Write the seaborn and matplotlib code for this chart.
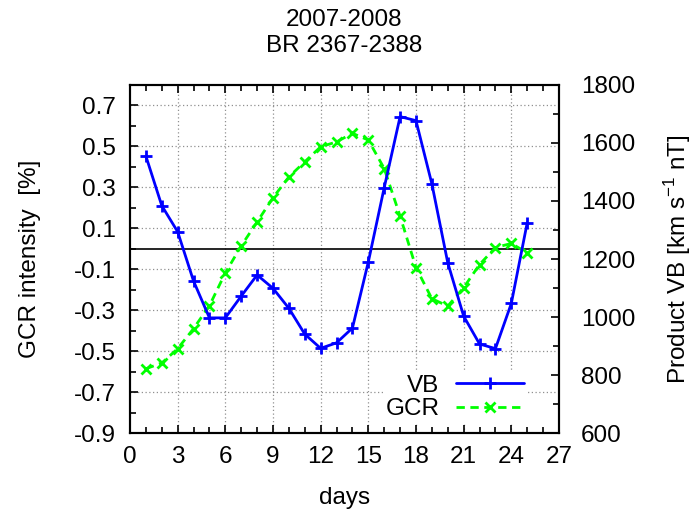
import numpy as np
import pandas as pd
import matplotlib
matplotlib.use("Agg")
import matplotlib.pyplot as plt
import seaborn as sns
from matplotlib.ticker import MultipleLocator, FixedLocator

sns.set_theme(style="ticks")
plt.rcParams['font.family'] = ['Liberation Sans', 'DejaVu Sans']
plt.rcParams['text.color'] = 'black'
plt.rcParams['axes.labelcolor'] = 'black'
plt.rcParams['xtick.color'] = 'black'
plt.rcParams['ytick.color'] = 'black'

# 데이터
days = list(range(1, 26))
vb = [1555, 1384, 1294, 1124, 997, 997, 1072, 1145, 1099, 1030, 941, 892, 911,
      962, 1190, 1446, 1691, 1677, 1459, 1187, 1003, 907, 891, 1047, 1325]
gcr = [-0.586, -0.558, -0.488, -0.390, -0.278, -0.118, 0.014, 0.131, 0.249, 0.351,
       0.425, 0.498, 0.522, 0.564, 0.531, 0.392, 0.159, -0.092, -0.244, -0.280,
       -0.190, -0.077, 0.006, 0.026, -0.020]
title_lines = ["2007-2008", "BR 2367-2388"]
left_ticks = [-0.9, -0.7, -0.5, -0.3, -0.1, 0.1, 0.3, 0.5, 0.7]
right_ticks = [600, 800, 1000, 1200, 1400, 1600, 1800]
x_ticks = list(range(0, 28, 3))

FS = 17.5

df = pd.DataFrame({'days': days, 'VB': vb, 'GCR': gcr})

fig = plt.figure(figsize=(6.97, 5.11), dpi=100)
ax = fig.add_axes([0.1865, 0.1526, 0.6155, 0.6811])
ax2 = ax.twinx()

# 격자와 0 기준선
ax.set_axisbelow(True)
for xt in x_ticks[1:-1]:
    ax.axvline(xt, color='#909090', lw=0.9, ls=(0, (1, 2)), zorder=0)
for yt in left_ticks[1:]:
    ax.axhline(yt, color='#909090', lw=0.9, ls=(0, (1, 2)), zorder=0)
ax.axhline(0, color='black', lw=1.2, zorder=1)

sns.lineplot(data=df, x='days', y='GCR', ax=ax, color='#00ff00', lw=2,
             marker='x', markersize=7, markeredgewidth=2,
             markeredgecolor='#00ff00', zorder=3, label='GCR')
ax.lines[-1].set_linestyle((0, (3, 2)))
sns.lineplot(data=df, x='days', y='VB', ax=ax2, color='#0000ff', lw=2,
             marker='+', markersize=9, markeredgewidth=2,
             markeredgecolor='#0000ff', zorder=4, label='VB')

ax.set_xlim(0, 27)
ax.set_ylim(-0.9, 0.8)
ax2.set_ylim(600, 1800)

ax.xaxis.set_major_locator(FixedLocator(x_ticks))
ax.xaxis.set_minor_locator(MultipleLocator(1))
ax.yaxis.set_major_locator(FixedLocator(left_ticks))
ax.yaxis.set_minor_locator(MultipleLocator(0.1))
ax2.yaxis.set_major_locator(FixedLocator(right_ticks))
ax2.yaxis.set_minor_locator(MultipleLocator(100))
ax.set_yticklabels([f"{t:.1f}" for t in left_ticks])

for a in (ax, ax2):
    a.tick_params(which='both', direction='in', labelsize=FS, width=1.2,
                  colors='black')
    a.tick_params(which='major', length=6)
    a.tick_params(which='minor', length=4)
    for s in a.spines.values():
        s.set_linewidth(1.5)
        s.set_color('black')
ax.tick_params(axis='x', which='both', top=True)
ax.tick_params(axis='x', pad=9)
ax.tick_params(axis='y', pad=10)
ax2.tick_params(axis='y', pad=16)

ax.set_xlabel('days', fontsize=FS, labelpad=14)
ax.set_ylabel('GCR intensity  [%]', fontsize=FS, labelpad=24)
ax2.set_ylabel('Product VB [km s$^{\\mathregular{-1}}$ nT]', fontsize=FS, labelpad=19)
ax.set_title("\n".join(title_lines), fontsize=FS, pad=24, linespacing=1.2)

if ax.get_legend():
    ax.get_legend().remove()
h1, l1 = ax2.get_legend_handles_labels()
h2, l2 = ax.get_legend_handles_labels()
leg = ax2.legend(h1 + h2, l1 + l2, loc='lower right', bbox_to_anchor=(0.925, 0.03),
                 markerfirst=False, fontsize=FS, frameon=True, framealpha=1,
                 edgecolor='none', facecolor='white', handlelength=2.8,
                 borderpad=0.1, labelspacing=0.05, handletextpad=0.7,
                 borderaxespad=0)
leg.get_frame().set_boxstyle('square', pad=0)

fig.savefig('out.png', dpi=100)
